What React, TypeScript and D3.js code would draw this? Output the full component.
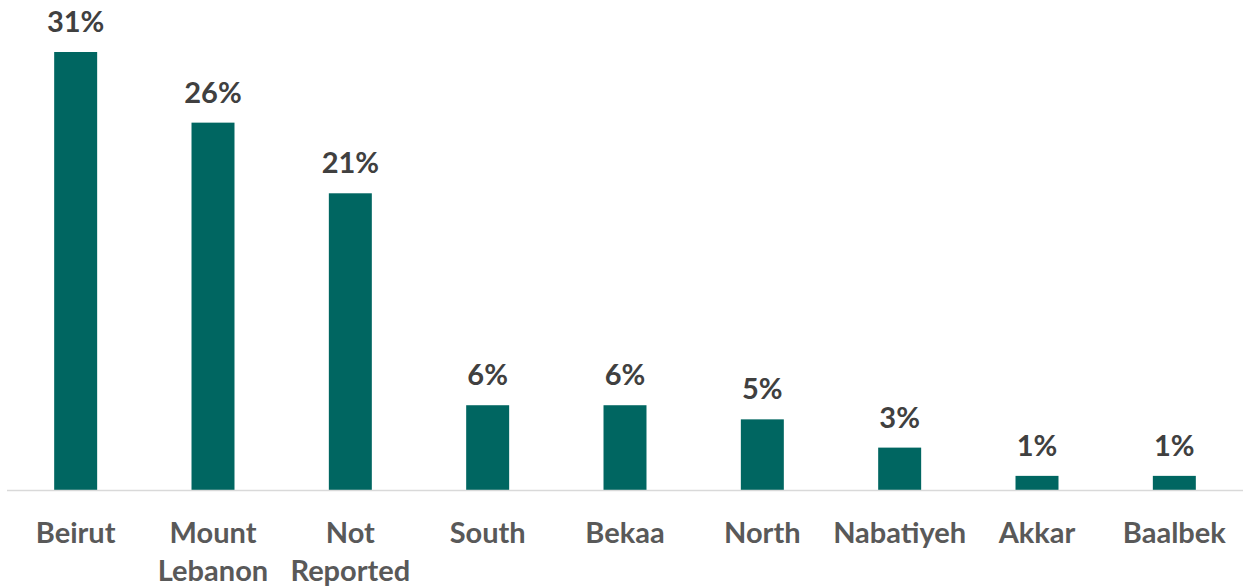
import * as d3 from "d3"
import React, { useEffect, useRef } from "react"

const regions = ["Beirut", "Mount Lebanon", "Not Reported", "South", "Bekaa", "North", "Nabatiyeh", "Akkar", "Baalbek"]
const shares = [31, 26, 21, 6, 6, 5, 3, 1, 1]

const width = 1249
const height = 588

const Chart = () => {
  const ref = useRef<SVGSVGElement>(null)

  useEffect(() => {
    const svg = d3.select(ref.current)
    svg.selectAll("*").remove()

    const x = d3.scaleBand().domain(regions).range([7, 1243]).paddingInner(0.687).paddingOuter(0.3435)
    const y = d3.scaleLinear().domain([0, 31]).range([490, 52])

    const data = regions.map((r, i) => ({ region: r, value: shares[i] }))

    svg
      .append("g")
      .selectAll("rect")
      .data(data)
      .join("rect")
      .attr("x", (d) => x(d.region)!)
      .attr("y", (d) => y(d.value))
      .attr("width", x.bandwidth())
      .attr("height", (d) => y(0) - y(d.value))
      .attr("fill", "#006661")

    svg
      .append("line")
      .attr("x1", 7)
      .attr("x2", 1243)
      .attr("y1", y(0) + 0.5)
      .attr("y2", y(0) + 0.5)
      .attr("stroke", "#d9d9d9")
      .attr("stroke-width", 1.5)

    svg
      .append("g")
      .selectAll("text")
      .data(data)
      .join("text")
      .attr("x", (d) => x(d.region)! + x.bandwidth() / 2)
      .attr("y", (d) => y(d.value) - 20)
      .attr("text-anchor", "middle")
      .attr("font-family", "Lato, 'Open Sans', sans-serif")
      .attr("font-weight", 700)
      .attr("font-size", 29)
      .attr("fill", "#404040")
      .text((d) => d.value + "%")

    const labels = svg
      .append("g")
      .selectAll("text")
      .data(data)
      .join("text")
      .attr("x", (d) => x(d.region)! + x.bandwidth() / 2)
      .attr("y", 543)
      .attr("text-anchor", "middle")
      .attr("font-family", "Lato, 'Open Sans', sans-serif")
      .attr("font-weight", 700)
      .attr("font-size", 29)
      .attr("fill", "#595959")

    labels
      .selectAll("tspan")
      .data((d) => d.region.split(" ").map((w) => ({ w, cx: x(d.region)! + x.bandwidth() / 2 })))
      .join("tspan")
      .attr("x", (d) => d.cx)
      .attr("dy", (d, i) => (i === 0 ? 0 : 38))
      .text((d) => d.w)
  }, [])

  return <svg width={width} height={height} viewBox={`0 0 ${width} ${height}`} ref={ref} style={{ display: "block" }} />
}

const App = () => (
  <div style={{ position: "absolute", left: 0, top: 0, background: "#fff" }}>
    <Chart />
  </div>
)

export default App
